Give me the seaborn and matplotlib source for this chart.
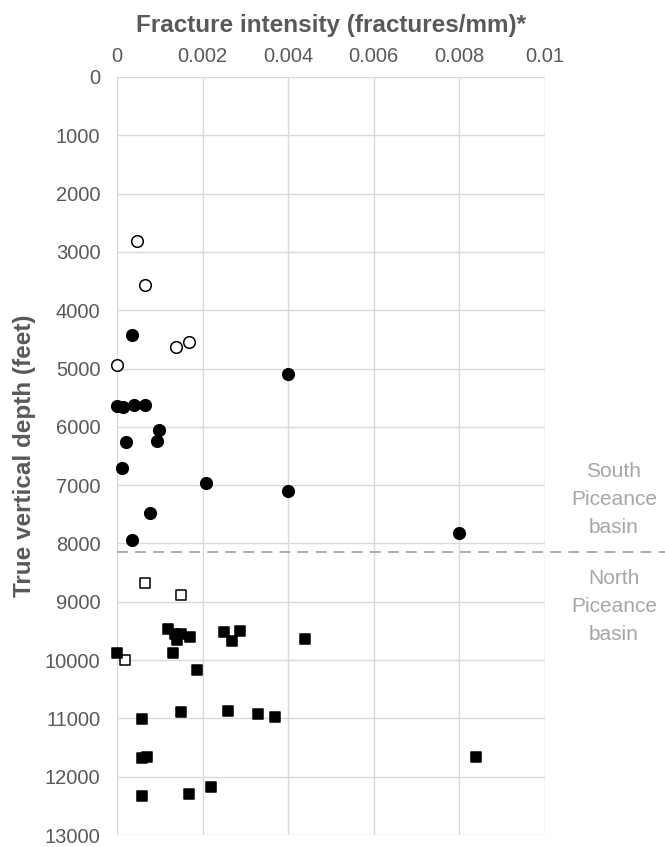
import matplotlib
matplotlib.use("Agg")
import matplotlib.pyplot as plt
import seaborn as sns
import pandas as pd
import matplotlib.transforms as mtransforms

# South Piceance basin - open circles
south_open_x = [0.00047, 0.00066, 0.00139, 0.00168, 0.0]
south_open_y = [2810, 3560, 4635, 4540, 4940]
# South Piceance basin - filled circles
south_fill_x = [0.00034, 0.00399, 0.0, 0.00015, 0.00039, 0.00066, 0.00097, 0.00093,
                0.00021, 0.00011, 0.00209, 0.00399, 0.00077, 0.00034, 0.00799]
south_fill_y = [4420, 5095, 5638, 5665, 5630, 5626, 6048, 6235,
                6258, 6707, 6958, 7094, 7481, 7942, 7816]
# North Piceance basin - open squares
north_open_x = [0.00066, 0.0015, 0.000185]
north_open_y = [8686, 8880, 10000]
# North Piceance basin - filled squares
north_fill_x = [0.0, 0.0012, 0.00135, 0.0015, 0.0014, 0.0017, 0.0013, 0.00188,
                0.00249, 0.00269, 0.00288, 0.00439, 0.00059, 0.0015, 0.0026,
                0.00329, 0.00368, 0.00058, 0.0007, 0.00059, 0.00169, 0.00219, 0.00838]
north_fill_y = [9887, 9470, 9560, 9560, 9650, 9610, 9876, 10166,
                9522, 9676, 9495, 9631, 11007, 10882, 10865,
                10933, 10973, 11679, 11655, 12333, 12294, 12174, 11667]

x_ticks = [0, 0.002, 0.004, 0.006, 0.008, 0.01]
x_ticklabels = ["0", "0.002", "0.004", "0.006", "0.008", "0.01"]
y_ticks = list(range(0, 14000, 1000))
boundary_depth = 8150
x_label = "Fracture intensity (fractures/mm)*"
y_label = "True vertical depth (feet)"
south_label = "South\nPiceance\nbasin"
north_label = "North\nPiceance\nbasin"

sns.set_style("white")
plt.rcParams['font.family'] = ['Liberation Sans', 'DejaVu Sans']

fig = plt.figure(figsize=(6.65, 8.47), dpi=100)
ax = fig.add_axes([117/665, 1 - 835/847, (545-117)/665, (835-77)/847])

groups = [
    (south_open_x, south_open_y, "o", "white", 70),
    (south_fill_x, south_fill_y, "o", "black", 70),
    (north_open_x, north_open_y, "s", "white", 60),
    (north_fill_x, north_fill_y, "s", "black", 60),
]
for xs, ys, m, fc, s in groups:
    df = pd.DataFrame({"x": xs, "y": ys})
    sns.scatterplot(data=df, x="x", y="y", marker=m, color=fc, edgecolor="black",
                    linewidth=1.1, s=s, ax=ax, zorder=3, clip_on=False)

ax.set_xlim(0, 0.01)
ax.set_ylim(13000, 0)
ax.set_xticks(x_ticks)
ax.set_xticklabels(x_ticklabels)
ax.set_yticks(y_ticks)
ax.xaxis.tick_top()
ax.xaxis.set_label_position("top")
ax.grid(True, color="#d9d9d9", linewidth=1.0)
ax.set_axisbelow(True)
for sp in ax.spines.values():
    sp.set_visible(False)
ax.tick_params(axis="both", length=0, labelsize=14.5, colors="#595959")
ax.tick_params(axis="x", pad=8)
ax.tick_params(axis="y", pad=12)

ax.set_xlabel(x_label, fontsize=17.5, fontweight="bold", color="#595959", labelpad=11)
ax.set_ylabel(y_label, fontsize=17.5, fontweight="bold", color="#595959", labelpad=6)

# dashed boundary line extending past the plot
ax.axhline(boundary_depth, xmin=0, xmax=(665-117)/(545-117), color="#a6a6a6",
           linestyle=(0, (6, 4)), linewidth=1.3, clip_on=False, zorder=2)

trans = mtransforms.blended_transform_factory(fig.transFigure, ax.transData)
ax.text(614/665, 7250, south_label, transform=trans, ha="center", va="center",
        fontsize=15, color="#a6a6a6", linespacing=1.6)
ax.text(614/665, 9075, north_label, transform=trans, ha="center", va="center",
        fontsize=15, color="#a6a6a6", linespacing=1.6)

fig.savefig("out.png", dpi=100)
